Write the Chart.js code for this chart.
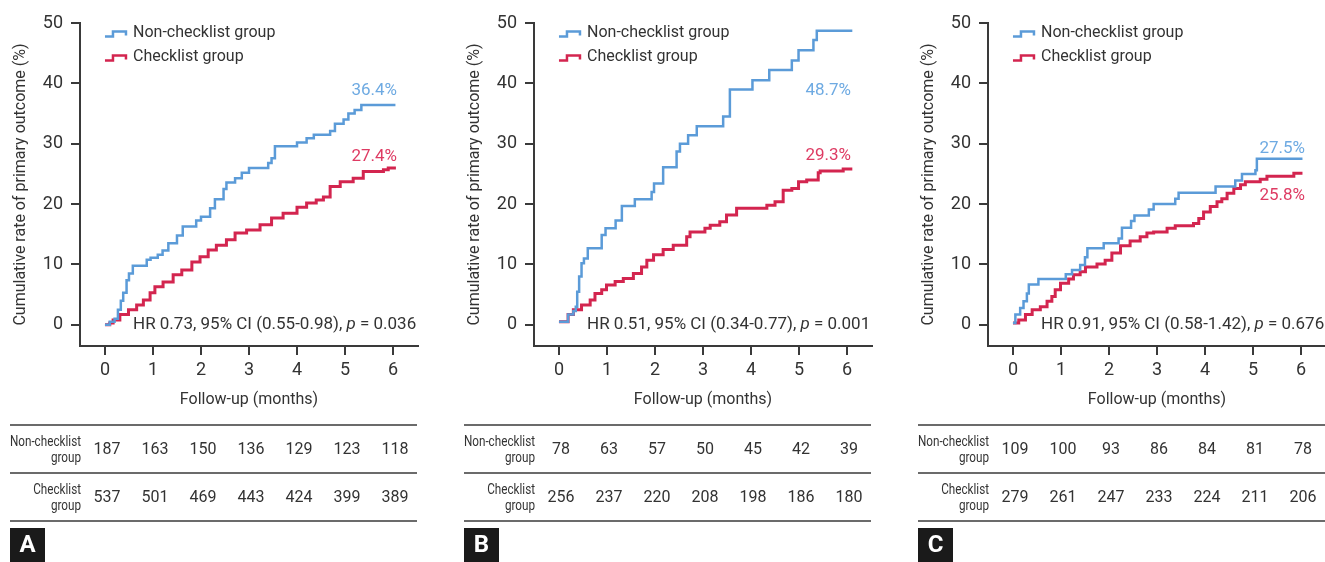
<!DOCTYPE html>
<html>
<head>
<meta charset="utf-8">
<script src="https://cdn.jsdelivr.net/npm/chart.js@4.4.1/dist/chart.umd.min.js"></script>
<style>
  html, body { margin: 0; padding: 0; background: #fff; }
  body { width: 1325px; height: 562px; overflow: hidden; position: relative; }
  .panel { position: absolute; top: 0; width: 454px; height: 562px; }
</style>
</head>
<body>
<div class="panel" style="left:0px"><canvas id="panelA" width="454" height="562"></canvas></div>
<div class="panel" style="left:454px"><canvas id="panelB" width="454" height="562"></canvas></div>
<div class="panel" style="left:908px"><canvas id="panelC" width="454" height="562"></canvas></div>
<script>
// ---- shared axis / legend content ----
const monthTicks = [0, 1, 2, 3, 4, 5, 6];
const rateTicks = [0, 10, 20, 30, 40, 50];
const seriesNames = ['Non-checklist group', 'Checklist group'];
const riskRowLabels = [['Non-checklist', 'group'], ['Checklist', 'group']];
const xTitle = 'Follow-up (months)';
const yTitle = 'Cumulative rate of primary outcome (%)';

// ---- panel A: step times (months) and cumulative rate after each step (%) ----
const aNonTime = [0, 0.1, 0.2, 0.27, 0.33, 0.38, 0.45, 0.5, 0.58, 0.87, 0.95, 1.1, 1.2, 1.32, 1.5, 1.62, 1.9, 2.0, 2.19, 2.29, 2.47, 2.53, 2.71, 2.85, 3.0, 3.4, 3.47, 3.54, 4.0, 4.2, 4.35, 4.69, 4.79, 4.97, 5.07, 5.2, 5.34, 6.05];
const aNonRate = [0, 0.5, 1.0, 2.5, 4.0, 5.3, 7.4, 8.5, 9.8, 10.8, 11.1, 11.6, 12.3, 13.5, 14.8, 16.3, 17.3, 17.9, 19.3, 20.8, 22.5, 23.6, 24.3, 25.2, 26.0, 26.8, 27.6, 29.6, 30.2, 30.9, 31.5, 32.1, 33.3, 34.0, 35.0, 35.6, 36.4, 36.4];
const aChkTime = [0, 0.1, 0.17, 0.31, 0.49, 0.66, 0.8, 0.94, 1.04, 1.21, 1.42, 1.6, 1.81, 1.98, 2.15, 2.32, 2.53, 2.71, 2.95, 3.23, 3.47, 3.71, 4.0, 4.2, 4.4, 4.55, 4.69, 4.9, 5.17, 5.38, 5.8, 5.9, 6.06];
const aChkRate = [0, 0.3, 0.8, 1.7, 2.5, 3.3, 4.1, 5.3, 6.3, 7.1, 8.3, 9.1, 10.4, 11.3, 12.4, 13.2, 14.1, 15.2, 15.7, 16.6, 17.7, 18.5, 19.5, 20.2, 20.7, 21.2, 22.9, 23.7, 24.3, 25.4, 25.7, 26.0, 26.0];
const aEndRates = [36.4, 27.4];
const aStats = ['0.73', '0.55-0.98', '0.036'];
const aAtRiskNon = [187, 163, 150, 136, 129, 123, 118];
const aAtRiskChk = [537, 501, 469, 443, 424, 399, 389];

// ---- panel B ----
const bNonTime = [0, 0.19, 0.3, 0.35, 0.38, 0.42, 0.47, 0.52, 0.6, 0.89, 0.97, 1.18, 1.31, 1.58, 1.93, 1.98, 2.17, 2.45, 2.52, 2.69, 2.87, 3.42, 3.56, 4.03, 4.38, 4.85, 4.99, 5.3, 5.37, 6.11];
const bNonRate = [0.5, 1.7, 2.3, 3.0, 5.5, 8.0, 10.2, 11.0, 12.7, 14.9, 16.0, 17.3, 19.7, 20.8, 22.0, 23.4, 26.1, 28.7, 30.0, 31.4, 32.9, 34.5, 39.0, 40.5, 42.2, 43.8, 45.5, 47.2, 48.7, 48.7];
const bChkTime = [0, 0.19, 0.3, 0.47, 0.65, 0.75, 0.89, 0.99, 1.17, 1.34, 1.55, 1.72, 1.83, 1.97, 2.17, 2.38, 2.66, 2.73, 3.04, 3.15, 3.35, 3.49, 3.7, 4.33, 4.5, 4.67, 4.85, 4.99, 5.16, 5.4, 5.44, 5.92, 6.11];
const bChkRate = [0.5, 1.7, 2.5, 3.3, 4.1, 5.2, 5.8, 6.6, 7.2, 7.7, 8.5, 9.6, 10.7, 11.6, 12.5, 13.2, 14.6, 15.4, 16.0, 16.5, 17.1, 18.2, 19.3, 19.8, 20.4, 22.3, 22.6, 23.7, 24.0, 25.2, 25.5, 25.8, 25.8];
const bEndRates = [48.7, 29.3];
const bStats = ['0.51', '0.34-0.77', '0.001'];
const bAtRiskNon = [78, 63, 57, 50, 45, 42, 39];
const bAtRiskChk = [256, 237, 220, 208, 198, 186, 180];

// ---- panel C ----
const cNonTime = [0, 0.05, 0.15, 0.22, 0.29, 0.33, 0.53, 1.1, 1.23, 1.4, 1.5, 1.55, 1.89, 2.2, 2.27, 2.46, 2.53, 2.83, 2.93, 3.38, 3.45, 4.22, 4.63, 4.77, 5.05, 5.08, 6.03];
const cNonRate = [0.3, 1.7, 2.8, 3.9, 5.2, 6.7, 7.6, 8.4, 9.1, 9.9, 11.2, 12.7, 13.5, 14.3, 16.1, 17.2, 18.1, 19.1, 20.0, 20.9, 21.9, 22.9, 23.9, 25.0, 25.6, 27.5, 27.5];
const cChkTime = [0, 0.12, 0.26, 0.4, 0.57, 0.71, 0.81, 0.88, 0.99, 1.16, 1.26, 1.4, 1.51, 1.75, 1.92, 2.06, 2.24, 2.44, 2.65, 2.79, 2.93, 3.21, 3.38, 3.76, 3.87, 3.97, 4.11, 4.25, 4.35, 4.46, 4.6, 4.74, 4.84, 5.15, 5.29, 5.85, 6.03];
const cChkRate = [0.3, 0.8, 1.7, 2.5, 3.0, 3.9, 4.7, 5.8, 6.9, 7.6, 8.3, 8.8, 9.6, 10.1, 10.7, 11.9, 13.1, 13.9, 14.6, 15.2, 15.4, 16.0, 16.4, 16.8, 17.6, 18.7, 19.6, 20.4, 20.9, 21.8, 22.6, 23.2, 23.7, 24.1, 24.6, 25.1, 25.1];
const cEndRates = [27.5, 25.8];
const cStats = ['0.91', '0.58-1.42', '0.676'];
const cAtRiskNon = [109, 100, 93, 86, 84, 81, 78];
const cAtRiskChk = [279, 261, 247, 233, 224, 211, 206];

// ---- styling ----
const FONT = 'Roboto, "Noto Sans", "DejaVu Sans", sans-serif';
const INK = '#333333';
const AXIS = '#3a3a3a';
const BLUE = '#5b9bd8';
const RED = '#d3254f';
const BLUE_TEXT = '#6eaae2';
const RED_TEXT = '#de3b63';

Chart.defaults.font.family = FONT;
Chart.defaults.color = INK;

function steps(times, rates) {
  return times.map((t, i) => ({ x: t, y: rates[i] }));
}

// draws legend, end-of-curve rates, HR annotation, number-at-risk table and panel letter
const kmOverlay = {
  id: 'kmOverlay',
  afterDraw(chart, args, opts) {
    const { ctx, chartArea: ca, scales } = chart;
    const xs = scales.x, ys = scales.y;
    ctx.save();

    // legend with step-shaped keys
    chart.data.datasets.forEach((ds, i) => {
      const cy = ca.top + 10 + i * 24;
      const kx = xs.getPixelForValue(0);
      ctx.strokeStyle = ds.borderColor;
      ctx.lineWidth = 2.5;
      ctx.lineJoin = 'miter';
      ctx.beginPath();
      ctx.moveTo(kx, cy + 3.5);
      ctx.lineTo(kx + 8, cy + 3.5);
      ctx.lineTo(kx + 8, cy - 1.5);
      ctx.lineTo(kx + 21, cy - 1.5);
      ctx.lineTo(kx + 21, cy + 2.5);
      ctx.stroke();
      ctx.fillStyle = INK;
      ctx.font = '16px ' + FONT;
      ctx.textAlign = 'left';
      ctx.textBaseline = 'middle';
      ctx.fillText(ds.label, ca.left + 53, cy);
    });

    // rates at the end of follow-up
    ctx.font = '17px ' + FONT;
    ctx.textAlign = 'right';
    ctx.textBaseline = 'middle';
    opts.endRates.forEach((v, i) => {
      const pts = chart.data.datasets[i].data;
      const last = pts[pts.length - 1];
      ctx.fillStyle = i === 0 ? BLUE_TEXT : RED_TEXT;
      ctx.fillText(v.toFixed(1) + '%', xs.getPixelForValue(6) + 4, ys.getPixelForValue(last.y) + opts.endShift[i]);
    });

    // hazard ratio line
    const [hr, ci, p] = opts.stats;
    const hy = ys.getPixelForValue(0);
    let hx = ca.left + 53;
    ctx.textAlign = 'left';
    ctx.fillStyle = INK;
    const parts = [
      ['HR ' + hr + ', 95% CI (' + ci + '), ', 'normal'],
      ['p', 'italic'],
      [' = ' + p, 'normal']
    ];
    parts.forEach(([txt, style]) => {
      ctx.font = style + ' 17px ' + FONT;
      ctx.fillText(txt, hx, hy);
      hx += ctx.measureText(txt).width;
    });

    // number-at-risk table
    const lx0 = ca.left - 70, lx1 = ca.right - 1;
    ctx.strokeStyle = AXIS;
    ctx.lineWidth = 1.5;
    [425, 473, 521].forEach(yy => {
      ctx.beginPath();
      ctx.moveTo(lx0, yy);
      ctx.lineTo(lx1, yy);
      ctx.stroke();
    });
    const rows = [opts.atRisk[0], opts.atRisk[1]];
    const rowY = [450, 498];
    rows.forEach((vals, r) => {
      ctx.font = '16px ' + FONT;
      ctx.textAlign = 'center';
      ctx.fillStyle = INK;
      vals.forEach((v, i) => {
        ctx.fillText(String(v), xs.getPixelForValue(monthTicks[i]) + 2, rowY[r]);
      });
      // condensed two-line row label
      ctx.save();
      const sx = 0.78;
      ctx.scale(sx, 1);
      ctx.font = '15px ' + FONT;
      ctx.textAlign = 'right';
      ctx.fillText(riskRowLabels[r][0], (ca.left + 1) / sx, rowY[r] - 8);
      ctx.fillText(riskRowLabels[r][1], (ca.left + 1) / sx, rowY[r] + 8);
      ctx.restore();
    });

    // panel letter
    ctx.fillStyle = '#1a1a1a';
    ctx.fillRect(ca.left - 70, 528, 35, 34);
    ctx.fillStyle = '#ffffff';
    ctx.font = 'bold 24px ' + FONT;
    ctx.textAlign = 'center';
    ctx.textBaseline = 'middle';
    ctx.fillText(opts.letter, ca.left - 52.5, 546);

    ctx.restore();
  }
};

function buildPanel(id, letter, non, chk, endRates, endShift, stats, atRisk) {
  return new Chart(document.getElementById(id), {
    type: 'line',
    data: {
      datasets: [
        { label: seriesNames[0], data: steps(non[0], non[1]), borderColor: BLUE, borderWidth: 2.5, stepped: 'before', pointRadius: 0, fill: false },
        { label: seriesNames[1], data: steps(chk[0], chk[1]), borderColor: RED, borderWidth: 3, stepped: 'before', pointRadius: 0, fill: false }
      ]
    },
    options: {
      responsive: false,
      animation: false,
      devicePixelRatio: 1,
      layout: { padding: { left: 0, right: 36, top: 23, bottom: 146 } },
      plugins: {
        legend: { display: false },
        tooltip: { enabled: false },
        kmOverlay: { letter, endRates, endShift, stats, atRisk }
      },
      scales: {
        x: {
          type: 'linear',
          min: -0.52,
          max: 6.52,
          afterBuildTicks: s => { s.ticks = monthTicks.map(v => ({ value: v })); },
          afterFit: s => { s.height = 70; },
          grid: { drawOnChartArea: false, drawTicks: true, tickLength: 9, color: AXIS, lineWidth: 2 },
          border: { display: true, color: AXIS, width: 2 },
          ticks: { font: { size: 18 }, color: INK, padding: 5, maxRotation: 0, autoSkip: false },
          title: { display: true, text: xTitle, font: { size: 16 }, color: INK, padding: { top: 0, bottom: 6 } }
        },
        y: {
          type: 'linear',
          min: -3.5,
          max: 50,
          afterBuildTicks: s => { s.ticks = rateTicks.map(v => ({ value: v })); },
          afterFit: s => { s.width = 80; },
          grid: { drawOnChartArea: false, drawTicks: true, tickLength: 9, color: AXIS, lineWidth: 2 },
          border: { display: true, color: AXIS, width: 2 },
          ticks: { font: { size: 18 }, color: INK, padding: 8, autoSkip: false },
          title: { display: true, text: yTitle, font: { size: 16 }, color: INK, padding: { top: 11, bottom: 0 } }
        }
      }
    },
    plugins: [kmOverlay]
  });
}

buildPanel('panelA', 'A', [aNonTime, aNonRate], [aChkTime, aChkRate], aEndRates, [-14, -11], aStats, [aAtRiskNon, aAtRiskChk]);
buildPanel('panelB', 'B', [bNonTime, bNonRate], [bChkTime, bChkRate], bEndRates, [60, -13], bStats, [bAtRiskNon, bAtRiskChk]);
buildPanel('panelC', 'C', [cNonTime, cNonRate], [cChkTime, cChkRate], cEndRates, [-10, 22], cStats, [cAtRiskNon, cAtRiskChk]);
</script>
</body>
</html>
